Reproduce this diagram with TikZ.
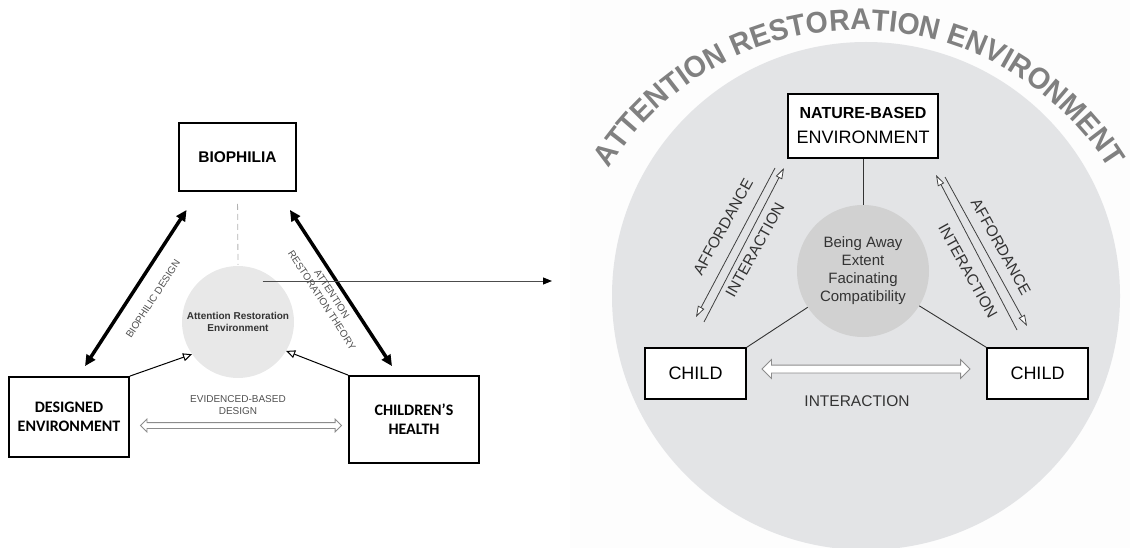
\documentclass[tikz,border=0pt]{standalone}
\usepackage{fontspec}
\setmainfont{Liberation Sans}
\newfontfamily\carl{Carlito}
\newfontfamily\arcfont[FakeStretch=0.95]{Liberation Sans}
\usetikzlibrary{arrows.meta,shapes.arrows,decorations.text,calc}
\definecolor{bigc}{HTML}{E3E4E6}
\definecolor{innerc}{HTML}{D1D1D1}
\definecolor{smallc}{HTML}{E8E8E8}
\definecolor{arcg}{HTML}{808080}
\definecolor{labg}{HTML}{505050}
\definecolor{panelbg}{HTML}{FDFDFD}
\definecolor{darkt}{HTML}{333333}
\newcommand\fs[2]{\fontsize{#1}{#2}\selectfont}
\begin{document}
\begin{tikzpicture}[x=1pt,y=-1pt,
 lbox/.style={draw=black, line width=1.8pt, inner sep=0pt, align=center},
 rbox/.style={draw=black, line width=1.2pt, fill=white, inner sep=0pt, align=center},
 thickarr/.style={line width=3.5pt, {Triangle[length=11pt,width=10pt]}-{Triangle[length=11pt,width=10pt]}},
 openarr/.style={line width=1pt, -{Triangle[open,length=9pt,width=8pt,fill=white]}},
 hollow/.style={double arrow, draw=black!45, fill=white, line width=0.8pt, inner xsep=0pt, minimum width=0pt, double arrow tip angle=90},
 thinarr/.style={line width=0.8pt, draw=black!75, -{Triangle[open,length=11pt,width=7pt,fill=white]}},
 rlabel/.style={font=\fs{15.5}{18}, text=darkt, inner sep=0pt},
 llabel/.style={font=\fs{10}{12}, text=labg, inner sep=0pt, align=center}
]
\useasboundingbox (0,0) rectangle (1130,548);
\fill[panelbg] (570,0) rectangle (1130,548);

% ---------- left diagram ----------
\node[lbox, minimum width=117pt, minimum height=68pt, font=\fs{15.5}{18}\bfseries] (bio) at (237.5,157) {BIOPHILIA};
\node[lbox, minimum width=120pt, minimum height=80pt, font=\carl\fs{16}{19}\bfseries] (des) at (69,417) {DESIGNED\\ENVIRONMENT};
\node[lbox, minimum width=130pt, minimum height=87pt, font=\carl\fs{16}{19}\bfseries] (chh) at (414,419.5) {CHILDREN’S\\HEALTH};
\node[circle, fill=smallc, minimum size=112pt, inner sep=0pt, align=center, font=\fs{10}{11.5}\bfseries, text=darkt] (are) at (238,322) {Attention Restoration\\Environment};

\draw[draw=black!30, line width=0.8pt, dash pattern=on 6pt off 4pt, shorten <=12pt, shorten >=1pt] (bio.south) -- (are.north);

\coordinate (b1) at ($(des.north)+(16,-10)$);
\coordinate (b2) at ($(bio.south west)+(8.5,18)$);
\draw[thickarr] (b1) -- (b2);
\coordinate (c1) at ($(bio.south east)+(-7,18)$);
\coordinate (c2) at ($(chh.north)+(-22,-9)$);
\draw[thickarr] (c1) -- (c2);

\node[llabel, rotate=57] (lbd) at (153,299) {BIOPHILIC DESIGN};
\node[llabel, rotate=-57] (lart) at (327,297) {ATTENTION\\RESTORATION THEORY};
\node[llabel] (lebd) at (238,405) {EVIDENCED-BASED\\DESIGN};

\draw[openarr] (des.north east) -- (are.215);
\draw[openarr] (chh.north west) -- (are.329);

\node[hollow, inner ysep=2.5pt, double arrow head extend=3.5pt, minimum height=201pt] (ha1) at (241,425.5) {};

\coordinate (hs) at ($(are.center)+(24.5,-41)$);
\coordinate (he) at (552,281);
\draw[line width=1pt, draw=black!70, -{Triangle[length=9pt,width=7pt,black]}] (hs) -- (he);

% ---------- right diagram ----------
\node[circle, fill=bigc, minimum size=508pt, inner sep=0pt] (big) at (866,296) {};
\coordinate (arcc) at (859,325);
\path[decorate, decoration={text along path, text align=center, text color=arcg,
  text={|\arcfont\fs{30}{30}\bfseries|ATTENTION RESTORATION ENVIRONMENT}}]
  (arcc) ++(190:295) arc[start angle=190, end angle=350, radius=295];

\node[rbox, minimum width=150pt, minimum height=64pt, font=\fs{18}{25}] (nb) at (863,126) {{\fs{16}{25}\bfseries NATURE-BASED}\\ENVIRONMENT};
\node[circle, fill=innerc, minimum size=132pt, inner sep=0pt, align=center, font=\fs{15}{18}, text=darkt] (ic) at (863,271) {Being Away\\Extent\\Facinating\\Compatibility};
\node[rbox, minimum width=101pt, minimum height=51pt, font=\fs{18}{20}] (cl) at (695.5,373.5) {CHILD};
\node[rbox, minimum width=101pt, minimum height=51pt, font=\fs{18}{20}] (cr) at (1037.5,373.5) {CHILD};

\draw[line width=0.9pt, draw=black!80] (nb.south) -- (ic.north);
\draw[line width=0.9pt, draw=black!80] (ic) -- (cl.north east);
\draw[line width=0.9pt, draw=black!80] (ic) -- (cr.north west);

\node[hollow, inner ysep=3.5pt, double arrow head extend=5.5pt, minimum height=208pt] (ha2) at (866,369) {};
\node[rlabel] (int) at (857,401) {INTERACTION};

\coordinate (l1s) at (775,168); \coordinate (l1e) at (696,317);
\coordinate (l2s) at (704,322); \coordinate (l2e) at (784,168);
\coordinate (r1s) at (1017,330); \coordinate (r1e) at (936,175);
\coordinate (r2s) at (945,177); \coordinate (r2e) at (1027,326);
\draw[thinarr] (l1s) -- (l1e);
\draw[thinarr] (l2s) -- (l2e);
\draw[thinarr] (r1s) -- (r1e);
\draw[thinarr] (r2s) -- (r2e);

\node[rlabel, rotate=61] (laf) at (723,227) {AFFORDANCE};
\node[rlabel, rotate=61] (lin) at (755,250) {INTERACTION};
\node[rlabel, rotate=-61] (raf) at (1001,247) {AFFORDANCE};
\node[rlabel, rotate=-61] (rin) at (968,271) {INTERACTION};
\end{tikzpicture}
\end{document}
